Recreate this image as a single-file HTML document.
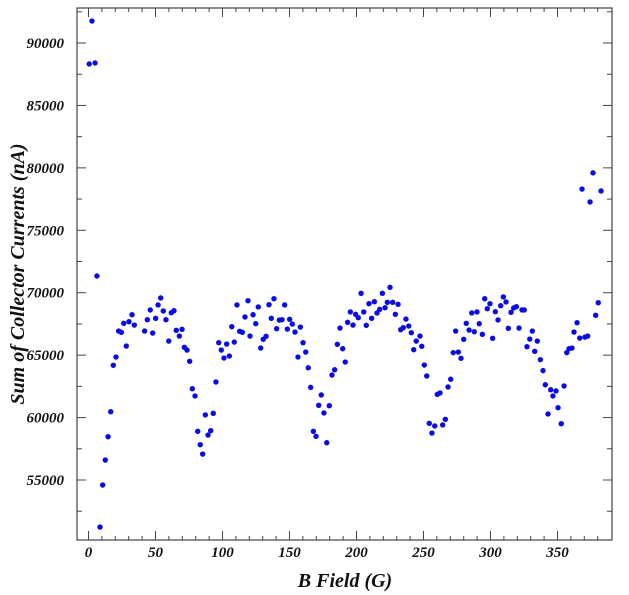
<!DOCTYPE html>
<html><head><meta charset="utf-8"><style>
html,body{margin:0;padding:0;background:#fff;}
svg{display:block;font-family:"Liberation Serif",serif;}
.tl{font-size:15px;font-weight:bold;font-style:italic;fill:#111;}
.tt{font-size:20px;font-weight:bold;font-style:italic;fill:#111;}
</style></head><body>
<svg id="chart" width="629" height="595" viewBox="0 0 629 595">
<rect x="77" y="8" width="535" height="532" fill="none" stroke="#444" stroke-width="1.2"/>
<g id="ticks"></g>
<g id="labels"></g>
<g id="points"></g>
<text class="tt" x="345" y="587" text-anchor="middle">B Field (G)</text>
<text class="tt" transform="translate(24,274) rotate(-90)" text-anchor="middle">Sum of Collector Currents (nA)</text>
</svg>
<script>
const xTicks=[0,50,100,150,200,250,300,350];
const yTicks=[55000,60000,65000,70000,75000,80000,85000,90000];
const bField=[0.5,2.6,4.9,6.3,
8.6,10.6,12.5,14.6,16.6,18.5,20.5,22.5,24.5,26.3,28.2,30.2,32.5,34.2,41.9,43.9,46.1,47.9,50.1,51.9,53.9,55.8,57.8,59.9,61.8,63.8,65.5,67.8,69.8,71.5,73.5,75.5,77.5,79.5,81.5,83.4,85.2,87.2,89.2,91.2,93.1,95.1,97.2,99.1,101.1,103.1,105.1,106.9,108.8,110.8,112.8,114.8,116.8,119.0,
120.5,122.8,124.8,126.7,128.5,130.4,132.5,134.7,136.4,138.4,140.4,142.4,144.4,146.4,148.4,150.1,152.1,154.1,156.3,158.1,160.1,162.1,164.0,165.8,167.8,169.8,171.8,173.7,175.7,177.8,179.7,181.7,183.7,185.7,187.7,189.7,191.6,193.4,195.4,197.4,199.4,201.3,203.4,205.4,207.3,209.3,211.3,213.3,215.3,217.3,219.3,221.3,223.0,225.0,227.0,229.0,231.0,233.0,234.9,236.9,239.0,240.9,242.7,244.6,
247.4,248.7,250.6,252.4,254.3,256.3,258.4,260.3,262.3,264.3,266.3,268.3,270.3,272.2,274.0,276.0,278.0,280.0,281.9,284.0,286.0,287.9,289.9,291.6,293.9,295.7,297.6,299.6,301.6,303.6,305.6,307.6,309.6,311.6,313.3,315.3,317.3,319.3,321.3,323.5,325.2,327.2,329.3,331.2,333.0,334.9,337.2,339.2,340.9,342.9,344.9,346.6,348.9,350.4,352.8,354.9,356.9,358.6,360.8,362.3,364.6,366.6,370.5,372.5,368.3,374.3,376.5,378.5,380.4,382.5];
const current=[88320,91760,88400,71340,
51230,54600,56600,58470,60470,64190,64850,66930,66830,67550,65730,67680,68240,67410,66930,67840,68620,66770,67950,69020,69580,68540,67840,66130,68400,68560,66990,66530,67070,65630,65410,64510,62310,61730,58900,57830,57080,60210,58600,58950,60340,62850,66000,65410,64770,65890,64930,67280,66050,69020,66910,66830,68060,69360,
66530,68240,67520,68860,65570,66270,66510,69040,67950,69520,67120,67810,67840,69020,67090,67870,67490,66850,64850,67250,66000,65250,63990,62420,58900,58500,60980,61810,60370,57990,60950,63410,63830,65870,67170,65520,64450,67630,68460,67410,68270,68000,69950,68460,67390,69120,67950,69280,68380,68670,69950,68800,69230,70430,69230,68270,69070,67040,67200,67890,67330,66800,65440,66130,
66530,65710,64210,63330,59540,58760,59330,61860,61970,59410,59860,62450,63070,65200,66930,65250,64750,66270,67550,67010,68380,66880,68460,67520,66670,69520,68720,69120,66350,68480,67820,68960,69660,69260,67150,68430,68780,68880,67170,68620,68620,65680,66290,66930,65310,66130,64640,63760,62630,60290,62230,61730,62130,60790,59510,62530,65200,65520,65570,66850,67600,66370,66450,66530,78300,77270,79600,68190,69200,78150];
const X0=88.5,XS=1.34,Y0=43,YS=62.43/5000;
function sx(v){return X0+v*XS;}
function sy(v){return Y0+(90000-v)*YS;}
const NS='http://www.w3.org/2000/svg';
function mk(t,a,p){const e=document.createElementNS(NS,t);for(const k in a)e.setAttribute(k,a[k]);p.appendChild(e);return e;}
const tg=document.getElementById('ticks'),lg=document.getElementById('labels'),pg=document.getElementById('points');
for(let v=-0;v<=380;v+=10){const x=sx(v);const L=(v%50===0)?9:4;
 let a=mk('line',{x1:x,x2:x,y1:540,y2:540-L,stroke:'#444','stroke-width':1},tg);
 let b=mk('line',{x1:x,x2:x,y1:8,y2:8+L,stroke:'#444','stroke-width':1},tg);}
for(let v=52500;v<=92500;v+=2500){const y=sy(v);const L=(v%5000===0)?9:5;
 let a=mk('line',{x1:77,x2:77+L,y1:y,y2:y,stroke:'#444','stroke-width':1},tg);
 let b=mk('line',{x1:612,x2:612-L,y1:y,y2:y,stroke:'#444','stroke-width':1},tg);}
xTicks.forEach(v=>{const t=mk('text',{x:sx(v),y:557,'text-anchor':'middle',class:'tl'},lg);t.textContent=v;
 });
yTicks.forEach(v=>{const t=mk('text',{x:64,y:sy(v)+5,'text-anchor':'end',class:'tl'},lg);t.textContent=v;
 });
bField.forEach((b,i)=>{const c=mk('circle',{cx:sx(b),cy:sy(current[i]),r:2.7,fill:'#0a0ae6'},pg);
 });
</script>
</body></html>
